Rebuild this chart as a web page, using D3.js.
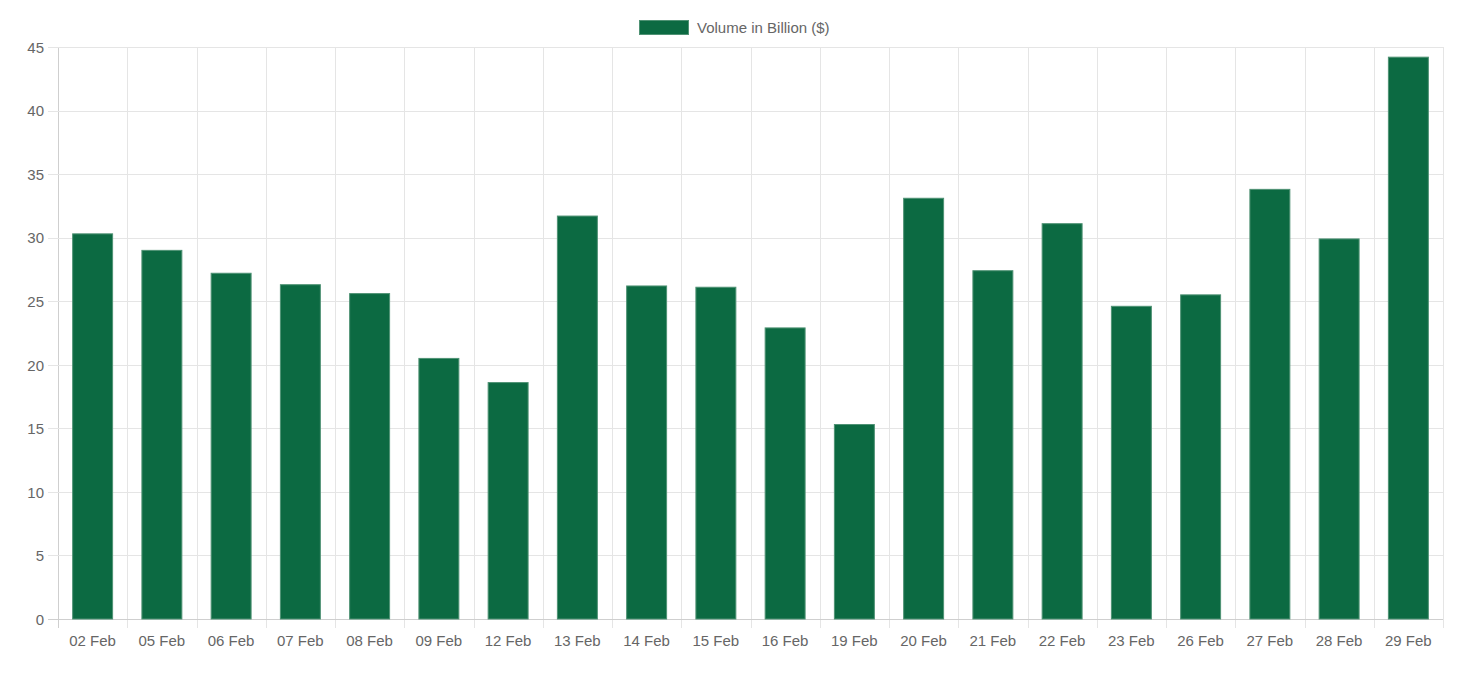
<!DOCTYPE html>
<html>
<head>
<meta charset="utf-8">
<script src="https://cdn.jsdelivr.net/npm/d3@7"></script>
<style>
  html, body { margin: 0; padding: 0; background: #fff; }
  svg { display: block; font-family: "Liberation Sans", Arial, Helvetica, sans-serif; }
</style>
</head>
<body>
<svg id="chart" width="1464" height="689"></svg>
<script>
const categories = ["02 Feb","05 Feb","06 Feb","07 Feb","08 Feb","09 Feb","12 Feb","13 Feb","14 Feb","15 Feb","16 Feb","19 Feb","20 Feb","21 Feb","22 Feb","23 Feb","26 Feb","27 Feb","28 Feb","29 Feb"];
const volumes = [30.3, 29.0, 27.2, 26.3, 25.6, 20.5, 18.6, 31.7, 26.2, 26.1, 22.9, 15.3, 33.1, 27.4, 31.1, 24.6, 25.5, 33.8, 29.9, 44.2];
const yTicks = [0, 5, 10, 15, 20, 25, 30, 35, 40, 45];
const seriesName = "Volume in Billion ($)";

const svg = d3.select("#chart");
const pLeft = 58, pRight = 1443, pTop = 47, pBottom = 619;

const x = d3.scaleBand().domain(categories).range([pLeft, pRight]).paddingInner(0).paddingOuter(0);
const y = d3.scaleLinear().domain([0, 45]).range([pBottom, pTop]);
const barW = x.step() * 0.577;

// vertical grid lines
svg.append("g").selectAll("line").data(d3.range(categories.length + 1)).join("line")
  .attr("x1", i => Math.round(pLeft + i * x.step()) + 0.5)
  .attr("x2", i => Math.round(pLeft + i * x.step()) + 0.5)
  .attr("y1", pTop).attr("y2", pBottom + 9)
  .attr("stroke", i => i === 0 ? "#cfcfcf" : "#e5e5e5").attr("stroke-width", 1);

// horizontal grid lines
svg.append("g").selectAll("line").data(yTicks).join("line")
  .attr("x1", pLeft - 10).attr("x2", pRight)
  .attr("y1", d => Math.round(y(d)) + 0.5).attr("y2", d => Math.round(y(d)) + 0.5)
  .attr("stroke", d => d === 0 ? "#cfcfcf" : "#e5e5e5").attr("stroke-width", 1);

// bars
svg.append("g").selectAll("rect").data(volumes).join("rect")
  .attr("x", (d, i) => x(categories[i]) + (x.step() - barW) / 2)
  .attr("y", d => y(d))
  .attr("width", barW)
  .attr("height", d => y(0) - y(d))
  .attr("fill", "#0c6a42")
  .attr("stroke", "#4f9274").attr("stroke-width", 1);

// y labels
svg.append("g").selectAll("text").data(yTicks).join("text")
  .attr("x", 44).attr("y", d => y(d) + 0.5).attr("dy", "0.35em")
  .attr("text-anchor", "end").attr("font-size", 15).attr("fill", "#666")
  .text(d => d);

// x labels
svg.append("g").selectAll("text").data(categories).join("text")
  .attr("x", d => x(d) + x.bandwidth() / 2).attr("y", 640.5).attr("dy", "0.35em")
  .attr("text-anchor", "middle").attr("font-size", 15).attr("fill", "#666")
  .text(d => d);

// legend
const lg = svg.append("g");
lg.append("rect").attr("x", 639.5).attr("y", 20.5).attr("width", 49).attr("height", 14)
  .attr("fill", "#0c6a42").attr("stroke", "#4f9274").attr("stroke-width", 1);
lg.append("text").attr("x", 697).attr("y", 27.5).attr("dy", "0.35em")
  .attr("font-size", 15).attr("fill", "#666").text(seriesName);
</script>
</body>
</html>
